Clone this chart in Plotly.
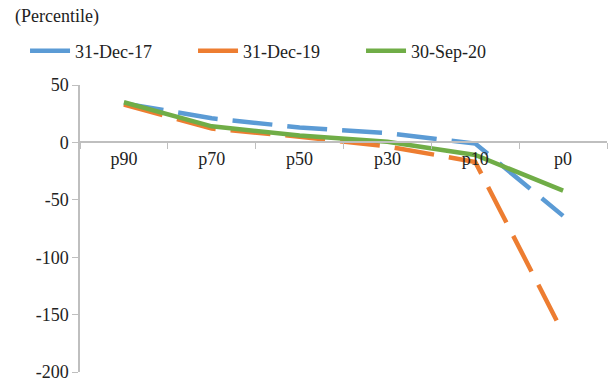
import plotly.graph_objects as go

categories = ["p90", "p70", "p50", "p30", "p10", "p0"]
dec17 = [34, 21, 13, 8, -1, -64]
dec19 = [33, 12, 5, -3.5, -17, -166]
sep20 = [35, 14, 6, 0.5, -11, -42]
y_ticks = [50, 0, -50, -100, -150, -200]
y_tick_labels = ["50", "0", "-50", "-100", "-150", "-200"]

FONT = "'Liberation Serif', 'Times New Roman', serif"
fig = go.Figure()
fig.add_trace(go.Scatter(x=categories, y=dec17, name="31-Dec-17", mode="lines",
                         line=dict(color="#5B9BD5", width=4.5, dash="40px,15px")))
fig.add_trace(go.Scatter(x=categories, y=dec19, name="31-Dec-19", mode="lines",
                         line=dict(color="#ED7D31", width=4.5, dash="40px,15px")))
fig.add_trace(go.Scatter(x=categories, y=sep20, name="30-Sep-20", mode="lines",
                         line=dict(color="#70AD47", width=4.5)))

fig.update_layout(
    width=608, height=375,
    margin=dict(l=72, r=9, t=77, b=11, autoexpand=False),
    paper_bgcolor="white", plot_bgcolor="white",
    font=dict(family=FONT, size=18, color="#222222"),
    showlegend=True,
    legend=dict(orientation="h", xref="container", yref="container",
                x=0.028, y=0.885, xanchor="left", yanchor="middle",
                entrywidth=113, font=dict(family=FONT, size=18), itemwidth=40),
    annotations=[dict(text="(Percentile)", xref="paper", yref="paper",
                      x=-0.127, y=1.237, xanchor="left", yanchor="middle",
                      showarrow=False, font=dict(family=FONT, size=18))],
    xaxis=dict(type="category", anchor="free", position=0.8,
               showline=True, linecolor="#BFBFBF", linewidth=1.5,
               ticks="outside", tickson="boundaries", ticklen=6, tickcolor="#BFBFBF",
               showgrid=False, zeroline=False, fixedrange=True,
               range=[-0.5, 5.5], tickfont=dict(family=FONT, size=18)),
    yaxis=dict(range=[-200, 50], tickvals=y_ticks, ticktext=y_tick_labels,
               showline=True,
               linecolor="#BFBFBF", linewidth=1.5, ticks="outside", ticklen=6,
               tickcolor="#BFBFBF", showgrid=False, zeroline=False,
               tickfont=dict(family=FONT, size=18)),
)
fig.write_html("out.html")
